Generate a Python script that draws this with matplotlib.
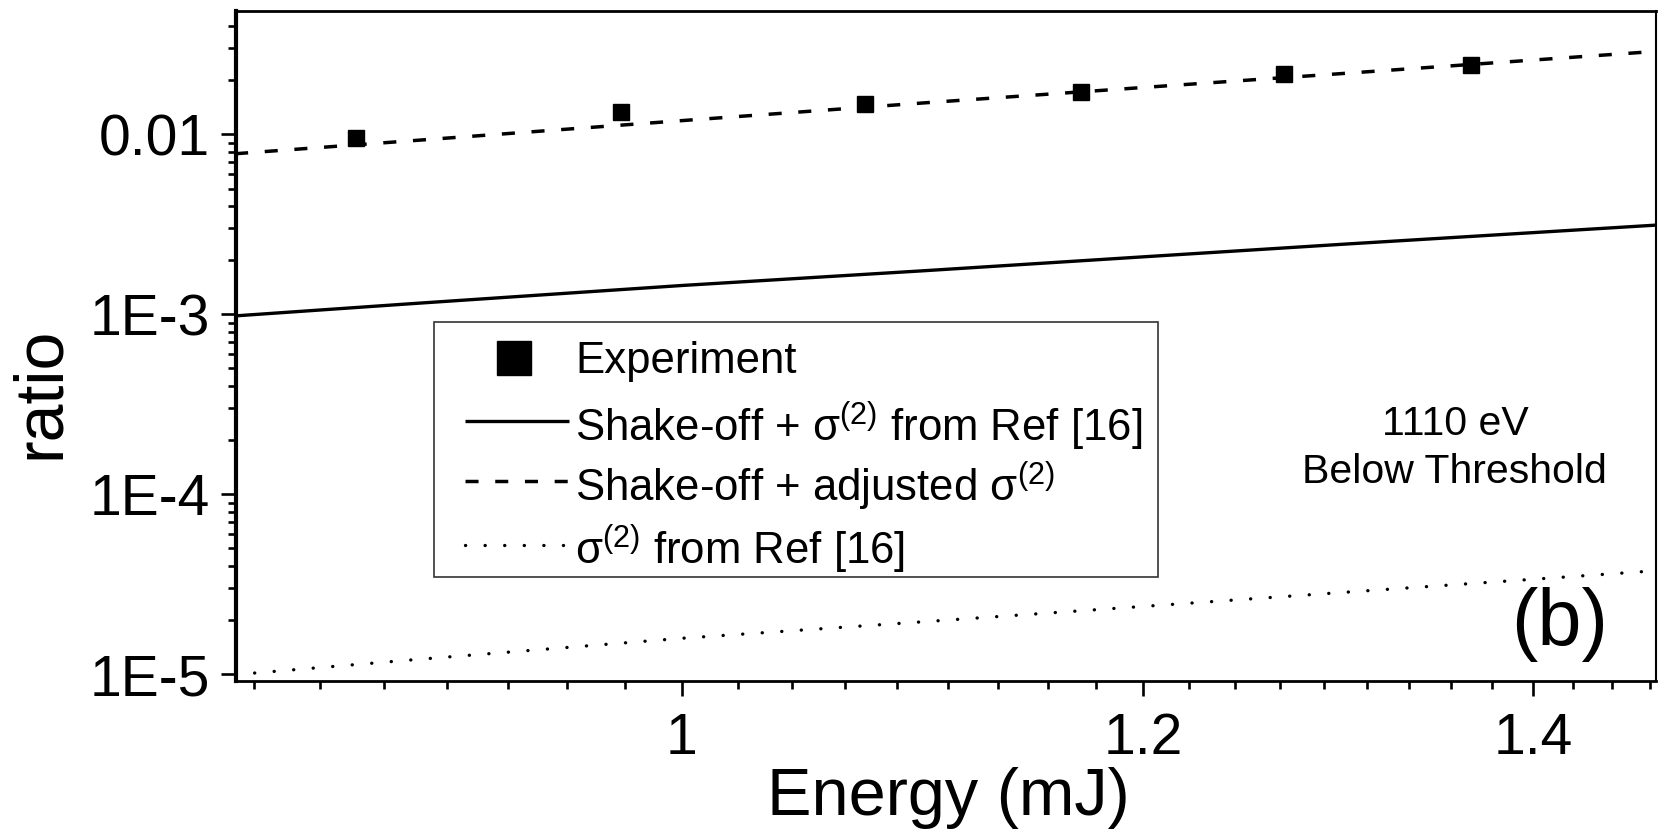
import numpy as np
import matplotlib
matplotlib.use("Agg")
import matplotlib.pyplot as plt
from matplotlib.ticker import FixedLocator, FixedFormatter, LogLocator, NullFormatter
from matplotlib.lines import Line2D
from matplotlib.patches import Rectangle

# ---- data -------------------------------------------------------------
# measured double/single ratio vs pulse energy
exp_energy = [0.879, 0.976, 1.075, 1.171, 1.269, 1.366]
exp_ratio = [0.00950, 0.01330, 0.01468, 0.01714, 0.02169, 0.02418]

# model curves on a common energy grid (mJ)
curve_energy = [0.838, 0.9, 1.0, 1.1, 1.2, 1.3, 1.4, 1.47]
shakeoff_ref16 = [9.80e-4, 1.150e-3, 1.446e-3, 1.745e-3, 2.086e-3, 2.456e-3, 2.843e-3, 3.131e-3]
shakeoff_adjusted = [7.80e-3, 9.25e-3, 1.192e-2, 1.494e-2, 1.821e-2, 2.183e-2, 2.586e-2, 2.891e-2]
sigma2_ref16 = [9.95e-6, 1.207e-5, 1.585e-5, 1.957e-5, 2.382e-5, 2.856e-5, 3.371e-5, 3.762e-5]

x_major = [1.0, 1.2, 1.4]
x_major_labels = ["1", "1.2", "1.4"]
y_major = [1e-5, 1e-4, 1e-3, 1e-2]
y_major_labels = ["1E-5", "1E-4", "1E-3", "0.01"]

legend_labels = [
    "Experiment",
    r"Shake-off + $\mathrm{\sigma}^{(2)}$ from Ref [16]",
    r"Shake-off + adjusted $\mathrm{\sigma}^{(2)}$",
    r"$\mathrm{\sigma}^{(2)}$ from Ref [16]",
]

# ---- style ------------------------------------------------------------
plt.rcParams["font.family"] = ["Liberation Sans", "DejaVu Sans"]
plt.rcParams["mathtext.fontset"] = "custom"
plt.rcParams["mathtext.rm"] = "Liberation Sans"
plt.rcParams["mathtext.it"] = "Liberation Sans:italic"
plt.rcParams["mathtext.bf"] = "Liberation Sans:bold"
plt.rcParams["lines.scale_dashes"] = False

W, H = 1659, 831


def fig_xy(x, y):
    """pixel position (from top-left) -> figure fraction"""
    return x / W, 1 - y / H


fig = plt.figure(figsize=(W / 100, H / 100), dpi=100)
ax_left, ax_right, ax_top, ax_bottom = 236, 1656, 11, 681.3
ax = fig.add_axes([ax_left / W, 1 - ax_bottom / H,
                   (ax_right - ax_left) / W, (ax_bottom - ax_top) / H])
ax.set_xscale("log")
ax.set_yscale("log")

solid_style = dict(color="black", lw=2.4, solid_capstyle="butt")
dash_style = dict(color="black", lw=2.5, dashes=(9.4, 12.0))
dot_style = dict(color="black", lw=2.4, dashes=(0.1, 14.0), dash_capstyle="round")

ax.plot(curve_energy, shakeoff_ref16, **solid_style)
ax.plot(curve_energy, shakeoff_adjusted, **dash_style)
ax.plot(curve_energy, sigma2_ref16, **dot_style)
ax.plot(exp_energy, exp_ratio, linestyle="none", marker="s", ms=12,
        color="black", zorder=5)

ax.set_xlim(0.8383, 1.4699)
ax.set_ylim(9.14e-6, 0.04845)

# x ticks: 8 minor ticks between majors spaced 0.2 apart
ax.xaxis.set_major_locator(FixedLocator(x_major))
ax.xaxis.set_major_formatter(FixedFormatter(x_major_labels))
x_minor = [0.8 + 0.2 * i + 0.2 * k / 9 for i in range(4) for k in range(1, 9)]
ax.xaxis.set_minor_locator(FixedLocator(x_minor))
ax.xaxis.set_minor_formatter(NullFormatter())

ax.yaxis.set_major_locator(FixedLocator(y_major))
ax.yaxis.set_major_formatter(FixedFormatter(y_major_labels))
ax.yaxis.set_minor_locator(LogLocator(base=10, subs=np.arange(2, 10), numticks=20))
ax.yaxis.set_minor_formatter(NullFormatter())

ax.tick_params(which="both", direction="out", top=False, right=False,
               width=1.9, labelsize=41, colors="black")
ax.tick_params(which="major", length=10.8)
ax.tick_params(which="minor", length=5.8)
ax.tick_params(axis="x", pad=11)
ax.tick_params(axis="y", pad=8)

for side, lw in (("left", 3.0), ("bottom", 2.0), ("top", 2.0), ("right", 1.5)):
    ax.spines[side].set_linewidth(lw)
    ax.spines[side].set_color("black")

ax.set_xlabel("Energy (mJ)", fontsize=48)
ax.xaxis.set_label_coords(0.502, -0.128)
ax.set_ylabel("ratio", fontsize=49)
ax.yaxis.set_label_coords(-0.115, 0.4297)

# ---- annotations ------------------------------------------------------
fig.text(*fig_xy(1455, 435), "1110 eV", ha="center", va="baseline", fontsize=29.5)
fig.text(*fig_xy(1454, 483), "Below Threshold", ha="center", va="baseline", fontsize=29.5)
fig.text(*fig_xy(1560, 645), "(b)", ha="center", va="baseline", fontsize=57)

# ---- legend box -------------------------------------------------------
bx0, by0 = fig_xy(434, 577)
bx1, by1 = fig_xy(1158, 322)
fig.add_artist(Rectangle((bx0, by0), bx1 - bx0, by1 - by0, transform=fig.transFigure,
                         facecolor="white", edgecolor="#333333", lw=1.2, zorder=6))

mx, my = fig_xy(514, 357.5)
fig.add_artist(Line2D([mx], [my], transform=fig.transFigure, linestyle="none",
                      marker="s", ms=24, color="black", zorder=7))
for (x1, x2, y), style in (((465, 569, 421), solid_style),
                           ((465, 569, 481), dash_style),
                           ((465, 569, 545), dot_style)):
    (fx1, fy), (fx2, _) = fig_xy(x1, y), fig_xy(x2, y)
    fig.add_artist(Line2D([fx1, fx2], [fy, fy], transform=fig.transFigure,
                          zorder=7, **style))

for (tx, ty), label in zip(((575, 373), (575, 441), (575, 501), (575, 564)),
                           legend_labels):
    fig.text(*fig_xy(tx, ty), label, ha="left", va="baseline", fontsize=31.5, zorder=8)

fig.savefig("out.png", dpi=100)
